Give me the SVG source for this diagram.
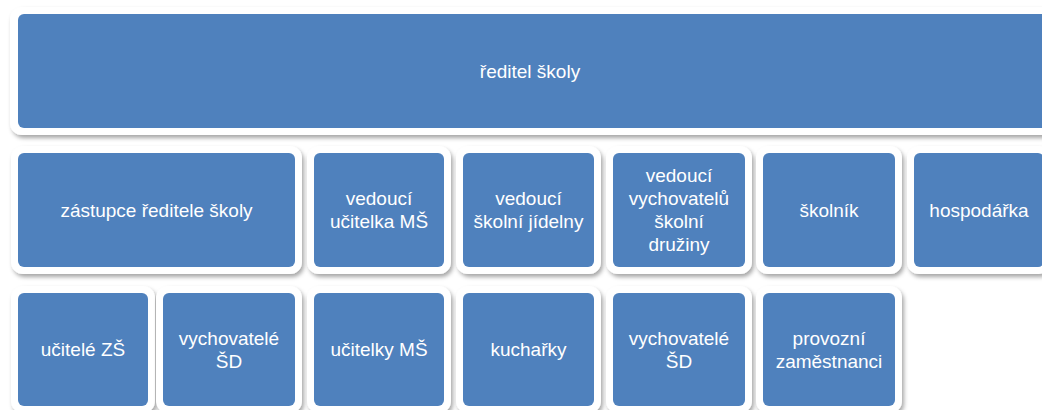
<svg xmlns="http://www.w3.org/2000/svg" width="1042" height="410" viewBox="0 0 1042 410">
<defs>
<filter id="sh" x="-10%" y="-10%" width="130%" height="130%">
<feDropShadow dx="2" dy="3" stdDeviation="2" flood-color="#000" flood-opacity="0.35"/>
</filter>
<style>
.frame{fill:#fff;filter:url(#sh)}
.box{fill:#4F81BD}
text{font-family:"Liberation Sans",Arial,sans-serif;font-size:19px;fill:#fff;text-anchor:middle}
</style>
</defs>
<rect width="1042" height="410" fill="#fff"/>
<g id="connectors"></g>
<g id="n-reditel">
<rect class="frame" x="10" y="7" width="1050" height="128" rx="12"/>
<rect class="box" x="18" y="14" width="1034" height="114" rx="6"/>
<text x="530" y="78">ředitel školy</text>
</g>
<g id="n-zastupce">
<rect class="frame" x="11" y="146" width="291" height="128" rx="12"/>
<rect class="box" x="18" y="153" width="277" height="114" rx="6"/>
<text x="156.5" y="216.5">zástupce ředitele školy</text>
</g>
<g id="n-ved-ms">
<rect class="frame" x="307" y="146" width="144" height="128" rx="12"/>
<rect class="box" x="314" y="153" width="130" height="114" rx="6"/>
<text x="379" y="205">vedoucí</text>
<text x="379" y="228">učitelka MŠ</text>
</g>
<g id="n-ved-sj">
<rect class="frame" x="456" y="146" width="145" height="128" rx="12"/>
<rect class="box" x="463" y="153" width="131" height="114" rx="6"/>
<text x="528.5" y="205">vedoucí</text>
<text x="528.5" y="228">školní jídelny</text>
</g>
<g id="n-ved-sd">
<rect class="frame" x="606" y="146" width="146" height="128" rx="12"/>
<rect class="box" x="613" y="153" width="132" height="114" rx="6"/>
<text x="679" y="182">vedoucí</text>
<text x="679" y="205">vychovatelů</text>
<text x="679" y="228">školní</text>
<text x="679" y="251">družiny</text>
</g>
<g id="n-skolnik">
<rect class="frame" x="756" y="146" width="146" height="128" rx="12"/>
<rect class="box" x="763" y="153" width="132" height="114" rx="6"/>
<text x="829" y="216.5">školník</text>
</g>
<g id="n-hospodarka">
<rect class="frame" x="907" y="146" width="144" height="128" rx="12"/>
<rect class="box" x="914" y="153" width="130" height="114" rx="6"/>
<text x="979" y="216.5">hospodářka</text>
</g>
<g id="n-ucitele-zs">
<rect class="frame" x="11" y="286" width="144" height="127" rx="12"/>
<rect class="box" x="18" y="293" width="130" height="113" rx="6"/>
<text x="83" y="356">učitelé ZŠ</text>
</g>
<g id="n-vych-sd1">
<rect class="frame" x="156" y="286" width="146" height="127" rx="12"/>
<rect class="box" x="163" y="293" width="132" height="113" rx="6"/>
<text x="229" y="344.5">vychovatelé</text>
<text x="229" y="367.5">ŠD</text>
</g>
<g id="n-ucitelky-ms">
<rect class="frame" x="307" y="286" width="144" height="127" rx="12"/>
<rect class="box" x="314" y="293" width="130" height="113" rx="6"/>
<text x="379" y="356">učitelky MŠ</text>
</g>
<g id="n-kucharky">
<rect class="frame" x="456" y="286" width="145" height="127" rx="12"/>
<rect class="box" x="463" y="293" width="131" height="113" rx="6"/>
<text x="528.5" y="356">kuchařky</text>
</g>
<g id="n-vych-sd2">
<rect class="frame" x="606" y="286" width="146" height="127" rx="12"/>
<rect class="box" x="613" y="293" width="132" height="113" rx="6"/>
<text x="679" y="344.5">vychovatelé</text>
<text x="679" y="367.5">ŠD</text>
</g>
<g id="n-provozni">
<rect class="frame" x="756" y="286" width="146" height="127" rx="12"/>
<rect class="box" x="763" y="293" width="132" height="113" rx="6"/>
<text x="829" y="344.5">provozní</text>
<text x="829" y="367.5">zaměstnanci</text>
</g>
</svg>
